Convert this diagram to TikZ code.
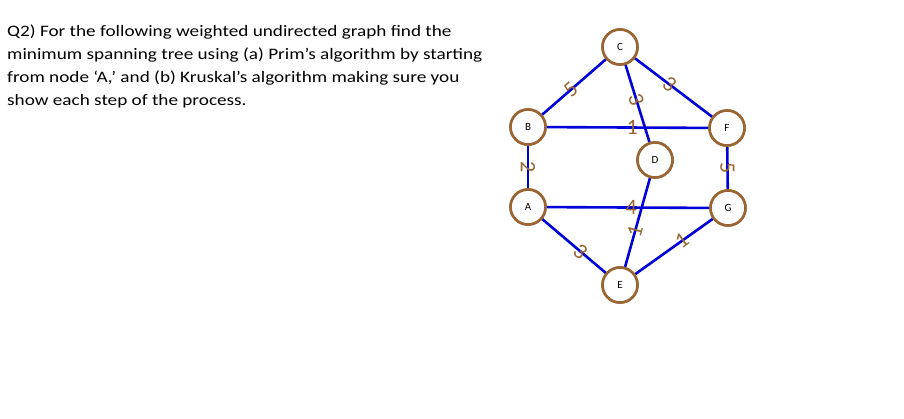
\documentclass[tikz,border=0pt]{standalone}
\usepackage{fontspec}
\setmainfont{Carlito}
\begin{document}
\begin{tikzpicture}[x=1pt,y=-1pt,
  vertex/.style={circle, draw=brown!80!black, line width=2.6pt, fill=white, minimum size=35pt, inner sep=0pt, font=\fontsize{11}{11}\selectfont},
  edge/.style={draw=blue!85!black, line width=2.6pt},
  weight/.style={sloped, font=\fontsize{22}{22}\selectfont, text=brown!80!black, inner sep=0pt}]
\useasboundingbox (0,0) rectangle (904,418);

% Aufgabe
\node[anchor=north west, align=left, font=\addfontfeatures{FakeStretch=1.2}\fontsize{16}{22.8}\selectfont, inner sep=0pt] (task) at (7,25)
 {Q2) For the following weighted undirected graph find the\\
  minimum spanning tree using (a) Prim’s algorithm by starting\\
  from node ‘A,’ and (b) Kruskal’s algorithm making sure you\\
  show each step of the process.};

% Knoten
\node[vertex] (C) at (620,47) {C};
\node[vertex] (B) at (528,127) {B};
\node[vertex] (F) at (727,128) {F};
\node[vertex] (D) at (655,160) {D};
\node[vertex] (A) at (528,207) {A};
\node[vertex] (G) at (728,208) {G};
\node[vertex] (E) at (620,285) {E};

% Kanten
\draw[edge] (C) -- node[weight, pos=0.55] {5} (B);
\draw[edge] (C) -- node[weight, pos=0.45] {3} (F);
\draw[edge] (C) -- node[weight, pos=0.45] {3} (D);
\draw[edge] (B) -- node[weight, pos=0.53] {1} (F);
\draw[edge] (B) -- node[weight] {2} (A);
\draw[edge] (F) -- node[weight] {5} (G);
\draw[edge] (A) -- node[weight, pos=0.52] {4} (G);
\draw[edge] (D) -- node[weight, pos=0.6] {1} (E);
\draw[edge] (A) -- node[weight, pos=0.6] {3} (E);
\draw[edge] (E) -- node[weight, pos=0.6] {1} (G);
\foreach \v in {C, B, F, D, A, G, E}
  \node[vertex] at (\v) {\v};

\end{tikzpicture}
\end{document}
